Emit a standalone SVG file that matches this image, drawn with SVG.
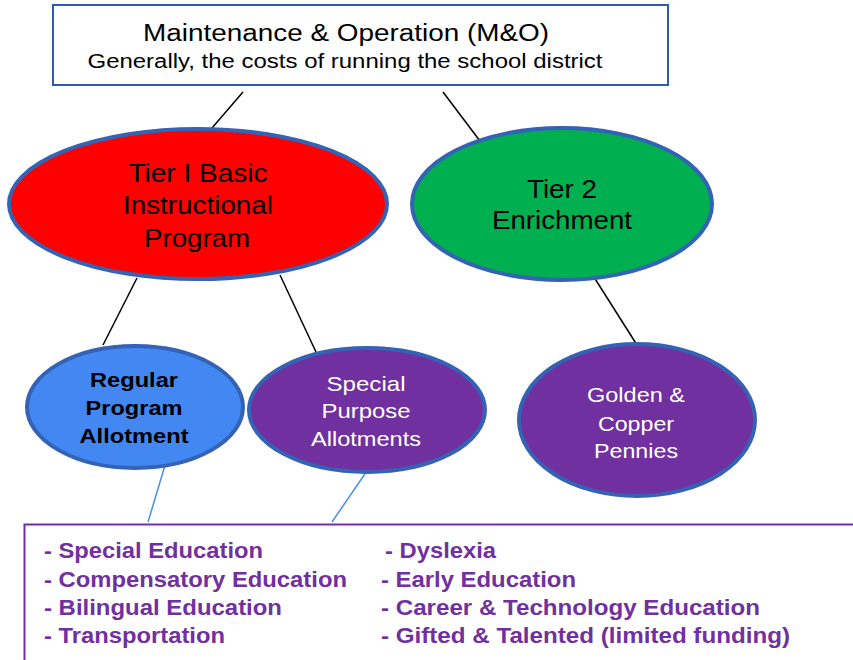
<svg xmlns="http://www.w3.org/2000/svg" width="853" height="660" viewBox="0 0 853 660">
<style>
.t{font-family:"Liberation Sans",Arial,sans-serif;text-anchor:middle}
.ell{stroke:#3462B4;stroke-width:4}
.blk{stroke:#000;stroke-width:1.5;fill:none}
.bl{stroke:#4A8EEE;stroke-width:1.5;fill:none}
.li{font-family:"Liberation Sans",Arial,sans-serif;font-weight:bold;font-size:22px;fill:#7030A0}
</style>
<rect width="853" height="660" fill="#fff"/>
<g id="connectors">
<line class="blk" x1="243" y1="92" x2="212" y2="128"/>
<line class="blk" x1="443" y1="92" x2="483" y2="145"/>
<line class="blk" x1="137" y1="278" x2="103" y2="345"/>
<line class="blk" x1="280" y1="275" x2="316" y2="352"/>
<line class="blk" x1="592" y1="274" x2="637" y2="345"/>
<line class="bl" x1="166" y1="462" x2="148" y2="522"/>
<line class="bl" x1="371" y1="465" x2="332" y2="522"/>
</g>
<g id="mo">
<rect x="53" y="5" width="615" height="80" fill="#fff" stroke="#2F5CA8" stroke-width="2"/>
<text class="t" x="346" y="41" font-size="23" textLength="406" lengthAdjust="spacingAndGlyphs">Maintenance &amp; Operation (M&amp;O)</text>
<text class="t" x="345" y="68" font-size="20" textLength="515" lengthAdjust="spacingAndGlyphs">Generally, the costs of running the school district</text>
</g>
<g id="tier1">
<ellipse class="ell" cx="198" cy="204" rx="189" ry="75" fill="#FF0000"/>
<text class="t" x="198" y="182" font-size="26" textLength="139" lengthAdjust="spacingAndGlyphs">Tier I Basic</text>
<text class="t" x="198" y="214" font-size="26" textLength="150" lengthAdjust="spacingAndGlyphs">Instructional</text>
<text class="t" x="197" y="247" font-size="26" textLength="106" lengthAdjust="spacingAndGlyphs">Program</text>
</g>
<g id="tier2">
<ellipse class="ell" cx="562" cy="204" rx="150" ry="76" fill="#00B050"/>
<text class="t" x="562" y="198" font-size="26" textLength="70" lengthAdjust="spacingAndGlyphs">Tier 2</text>
<text class="t" x="562" y="229" font-size="26" textLength="140" lengthAdjust="spacingAndGlyphs">Enrichment</text>
</g>
<g id="regular">
<ellipse class="ell" cx="135" cy="407" rx="108" ry="61" fill="#4287F2"/>
<text class="t" x="134" y="387" font-size="21" font-weight="bold" textLength="88" lengthAdjust="spacingAndGlyphs">Regular</text>
<text class="t" x="134" y="415" font-size="21" font-weight="bold" textLength="97" lengthAdjust="spacingAndGlyphs">Program</text>
<text class="t" x="134" y="443" font-size="21" font-weight="bold" textLength="109" lengthAdjust="spacingAndGlyphs">Allotment</text>
</g>
<g id="special">
<ellipse class="ell" cx="367" cy="410" rx="118" ry="62" fill="#7030A0"/>
<text class="t" x="366" y="391" font-size="21" fill="#fff" textLength="79" lengthAdjust="spacingAndGlyphs">Special</text>
<text class="t" x="366" y="418" font-size="21" fill="#fff" textLength="89" lengthAdjust="spacingAndGlyphs">Purpose</text>
<text class="t" x="366" y="446" font-size="21" fill="#fff" textLength="110" lengthAdjust="spacingAndGlyphs">Allotments</text>
</g>
<g id="golden">
<ellipse class="ell" cx="637" cy="420" rx="118" ry="76" fill="#7030A0"/>
<text class="t" x="636" y="402" font-size="21" fill="#fff" textLength="98" lengthAdjust="spacingAndGlyphs">Golden &amp;</text>
<text class="t" x="636" y="431" font-size="21" fill="#fff" textLength="76" lengthAdjust="spacingAndGlyphs">Copper</text>
<text class="t" x="636" y="458" font-size="21" fill="#fff" textLength="84" lengthAdjust="spacingAndGlyphs">Pennies</text>
</g>
<g id="list">
<path d="M853,524.5 H24.5 V660" fill="none" stroke="#7030A0" stroke-width="2"/>
<text class="li" x="44" y="558" textLength="219" lengthAdjust="spacingAndGlyphs">- Special Education</text>
<text class="li" x="44" y="587" textLength="303" lengthAdjust="spacingAndGlyphs">- Compensatory Education</text>
<text class="li" x="44" y="615" textLength="238" lengthAdjust="spacingAndGlyphs">- Bilingual Education</text>
<text class="li" x="44" y="643" textLength="181" lengthAdjust="spacingAndGlyphs">- Transportation</text>
<text class="li" x="385" y="558" textLength="111" lengthAdjust="spacingAndGlyphs">- Dyslexia</text>
<text class="li" x="381" y="587" textLength="195" lengthAdjust="spacingAndGlyphs">- Early Education</text>
<text class="li" x="381" y="615" textLength="379" lengthAdjust="spacingAndGlyphs">- Career &amp; Technology Education</text>
<text class="li" x="381" y="643" textLength="409" lengthAdjust="spacingAndGlyphs">- Gifted &amp; Talented (limited funding)</text>
</g>
</svg>
